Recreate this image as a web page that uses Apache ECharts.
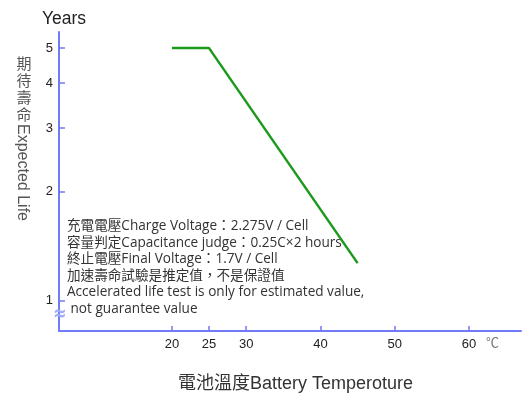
<!DOCTYPE html>
<html><head><meta charset="utf-8">
<script src="https://cdn.jsdelivr.net/npm/echarts@6/dist/echarts.min.js"></script>
<style>html,body{margin:0;padding:0;background:#fff}#c{width:525px;height:401px}</style>
</head><body><div id="c"></div>
<script>
var temps = [20, 25, 45];
var years = [5, 5, 1.27];
var xTicks = [20, 25, 30, 40, 50, 60];
var yTicks = [1, 2, 3, 4, 5];
var notes = [
  '充電電壓Charge Voltage：2.275V / Cell',
  '容量判定Capacitance judge：0.25C×2 hours',
  '終止電壓Final Voltage：1.7V / Cell',
  '加速壽命試驗是推定值，不是保證值',
  'Accelerated life test is only for estimated value,',
  ' not guarantee value'
];
var yNameCJK = ['期', '待', '壽', '命'];
var yNameEn = 'Expected Life';
var xName = '電池溫度Battery Temperoture';

var axisColor = '#6f7cf5';
var font = '"Liberation Sans", "Noto Sans CJK TC", sans-serif';
var noteFont = '"Open Sans", "Noto Sans CJK TC", sans-serif';
var chart = echarts.init(document.getElementById('c'));
var graphics = [
  {type:'text', left:42, top:10, style:{text:'Years', fontSize:17.5, fill:'#222', fontFamily:font}},
  {type:'text', x:60, y:315, z:10, scaleY:1.3, style:{text:'≈', fontSize:16, fontWeight:'bold', fill:'#a3adfb', align:'center', verticalAlign:'middle', fontFamily:'"DejaVu Sans", sans-serif'}},
  {type:'text', left:486, top:337, style:{text:'℃', fontSize:13, fill:'#777', fontFamily:font}},
  {type:'text', left:178, top:375, style:{text:xName, fontSize:18, fill:'#333', fontFamily:font}},
  {type:'text', left:67, top:218, style:{text:notes.join('\n'), fontSize:13.6, lineHeight:16.5, fill:'#333', fontFamily:noteFont}}
];
yNameCJK.forEach(function(ch, i){
  graphics.push({type:'text', x:24, y:65 + i*17, style:{text:ch, fontSize:15, fill:'#555', align:'center', verticalAlign:'middle', fontFamily:font}});
});
graphics.push({type:'text', x:22, y:172.5, rotation:-Math.PI/2, style:{text:yNameEn, fontSize:16, fill:'#555', align:'center', verticalAlign:'middle', fontFamily:font}});

chart.setOption({
  animation:false,
  grid:{left:59, right:4, top:32, bottom:70, containLabel:false},
  xAxis:{
    type:'value', min:4.8, max:67,
    axisLine:{show:true, lineStyle:{color:axisColor, width:2}},
    axisTick:{show:true, inside:true, length:5, lineStyle:{color:axisColor, width:1.5}, customValues:xTicks},
    axisLabel:{customValues:xTicks, color:'#222', fontSize:13, fontFamily:font, margin:7},
    splitLine:{show:false}
  },
  yAxis:{
    type:'log', min:0.824, max:5.54,
    axisLine:{show:true, lineStyle:{color:axisColor, width:2}},
    axisTick:{show:true, inside:true, length:6, lineStyle:{color:axisColor, width:1.5}, customValues:yTicks},
    axisLabel:{customValues:yTicks, color:'#222', fontSize:13, fontFamily:font, margin:6},
    splitLine:{show:false}
  },
  graphic:graphics,
  series:[{
    type:'line', data:temps.map(function(t,i){return [t, years[i]];}),
    symbol:'none', lineStyle:{color:'#1d9a1d', width:2.5}
  }]
});
</script></body></html>
